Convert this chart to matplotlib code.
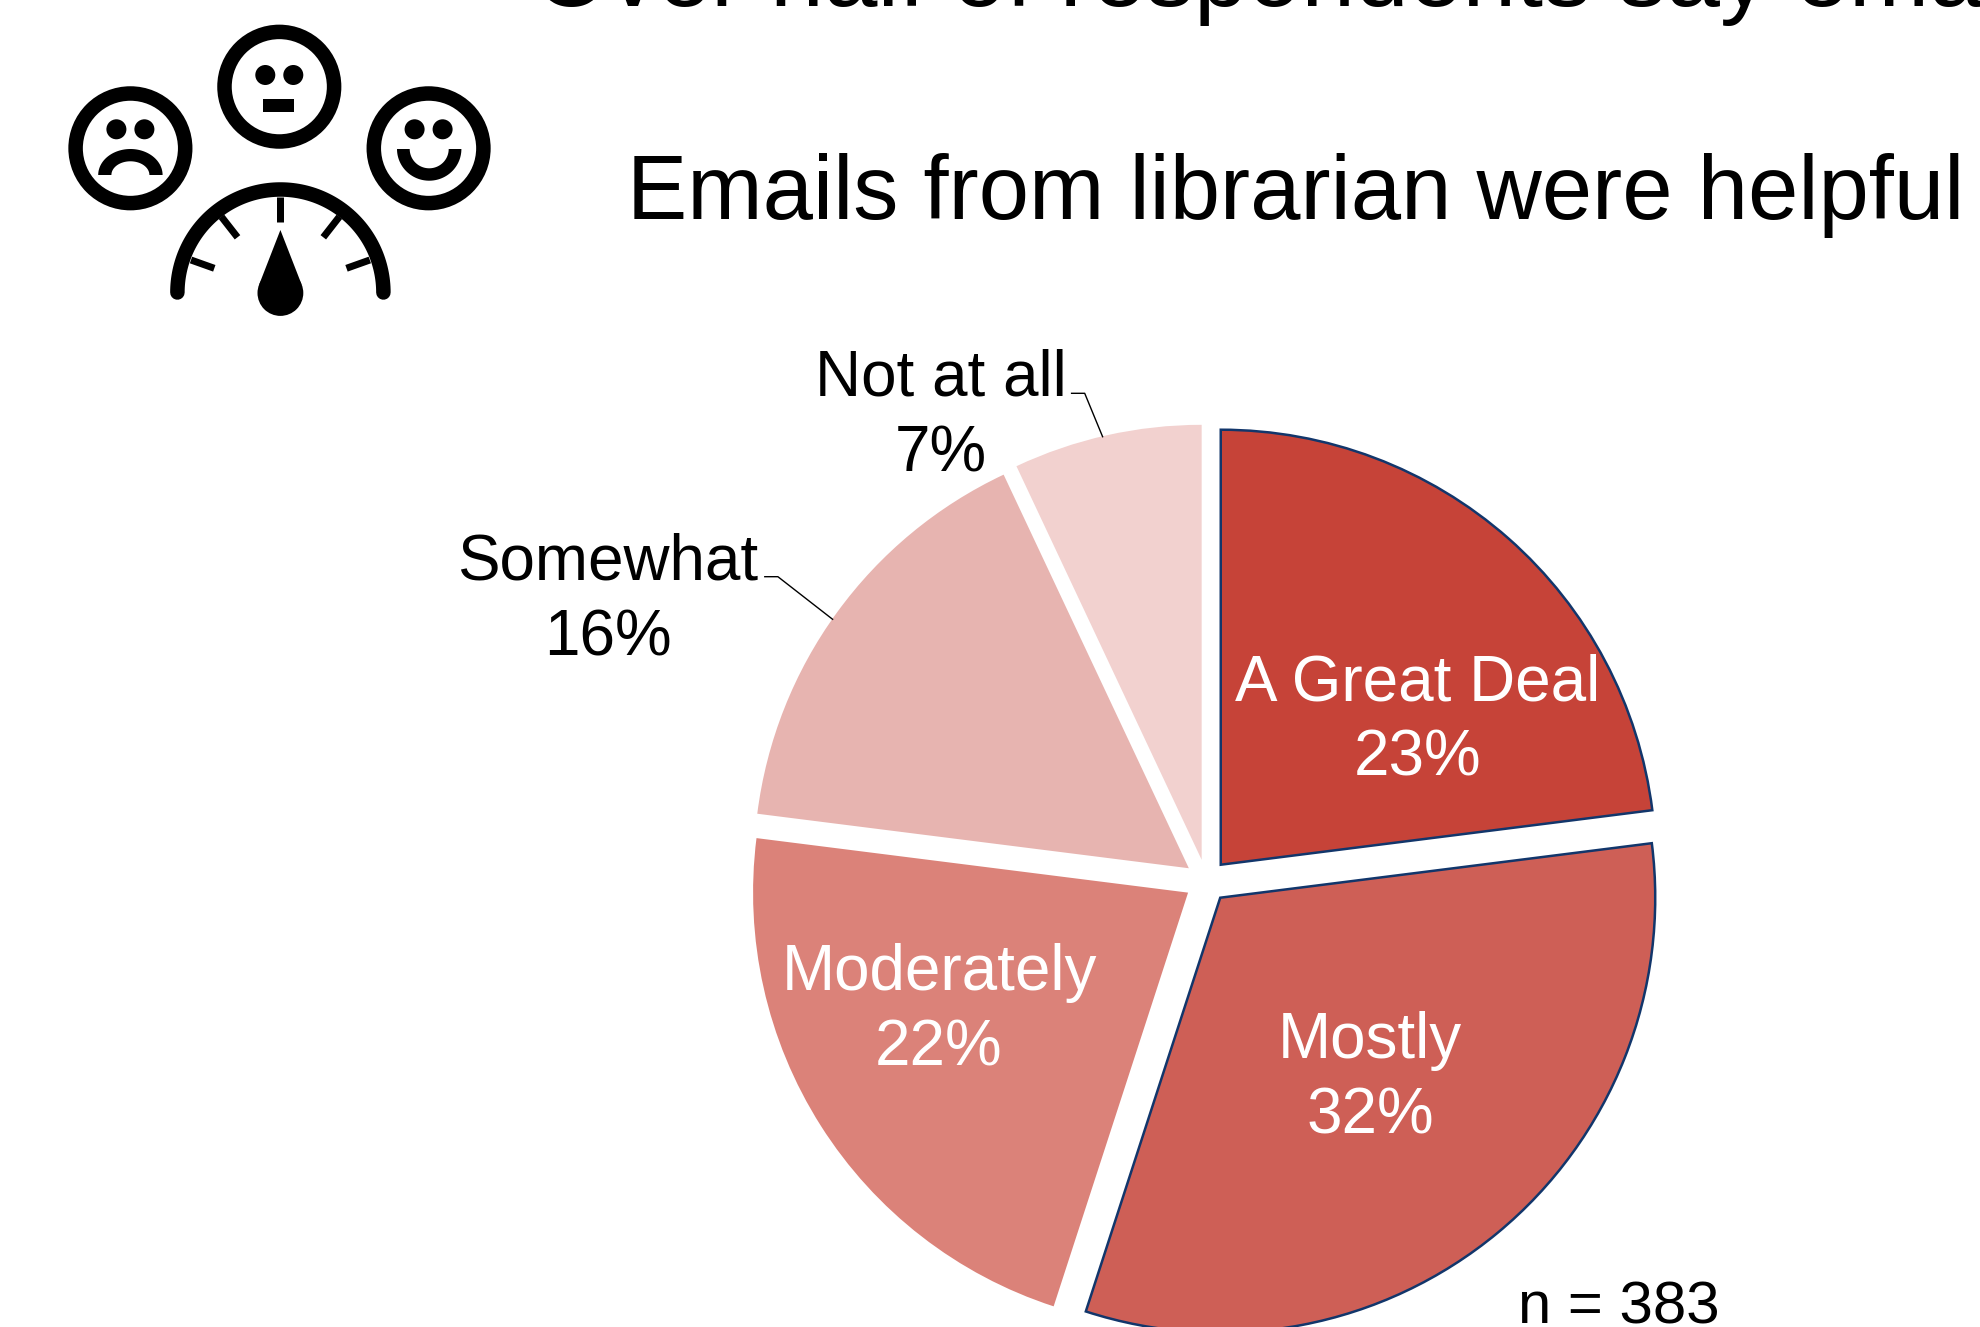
import matplotlib
matplotlib.use("Agg")
import matplotlib.pyplot as plt
import numpy as np
from matplotlib.patches import Circle, Polygon, Rectangle

categories = ["A Great Deal", "Mostly", "Moderately", "Somewhat", "Not at all"]
percents = [23, 32, 22, 16, 7]
colors = ["#C64338", "#CE5F56", "#DB8279", "#E7B4B0", "#F2D1CF"]
text_colors = ["white", "white", "white", "black", "black"]
title_top = "Over half of respondents say emails were helpful"
title_sub = "Emails from librarian were helpful"
sample_note = "n = 383"

W, H = 1980, 1327
PX = 72 / 100  # one pixel in points at dpi 100

plt.rcParams["font.family"] = ["Liberation Sans", "DejaVu Sans"]

fig = plt.figure(figsize=(W / 100, H / 100), dpi=100, facecolor="white")
ax = fig.add_axes([0, 0, 1, 1])

# y axis runs downward, so counterclock here turns clockwise on screen
# pie takes explode in data units, which are pixels here
wedges, _ = ax.pie(percents, colors=colors, explode=[21.7] * 5, radius=435,
                   center=(1206.4, 881), startangle=-90, counterclock=True,
                   wedgeprops={"linewidth": 0}, frame=True)
for w in wedges[:2]:
    w.set_edgecolor("#12366B")
    w.set_linewidth(1.8)

ax.set_xlim(0, W)
ax.set_ylim(H, 0)
ax.axis("off")

# category label centre x and baseline y of the percent line
label_pos = [(1418, 776), (1370, 1134), (939, 1066), (608, 655), (941, 471)]
for name, pct, col, (x, y) in zip(categories, percents, text_colors, label_pos):
    ax.text(x, y, f"{name}\n{pct}%", color=col, fontsize=63.8 * PX, ha="center",
            va="baseline", multialignment="center", linespacing=1.34)

# leader lines
ax.plot([1071.6, 1084.7, 1102.6], [393.3, 393.3, 436.7], color="black", lw=1)
ax.plot([764.8, 777.9, 832.6], [576.7, 576.7, 619.3], color="black", lw=1)

ax.text(534, 6, title_top, fontsize=96.5 * PX, ha="left", va="baseline", color="black")
ax.text(627, 218.5, title_sub, fontsize=90.4 * PX, ha="left", va="baseline", color="black")
ax.text(1619, 1324, sample_note, fontsize=60 * PX, ha="center", va="baseline", color="black")


def half_ring(cx, cy, out_r, in_r, sign):
    t = np.linspace(0, np.pi, 60)
    xs = np.r_[cx + out_r[0] * np.cos(t), cx + in_r[0] * np.cos(t[::-1])]
    ys = np.r_[cy + sign * out_r[1] * np.sin(t), cy + sign * in_r[1] * np.sin(t[::-1])]
    return Polygon(np.c_[xs, ys], closed=True, fc="black", ec="none")


def face(cx, cy, eye_dy):
    ax.add_patch(Circle((cx, cy), 54.8, fc="none", ec="black", lw=14.5 * PX))
    for dx in (-14, 14):
        ax.add_patch(Circle((cx + dx, cy + eye_dy), 10, fc="black", ec="none"))


# sad, neutral and happy faces
face(130.4, 148.3, -19)
ax.add_patch(half_ring(130.4, 175, (32.2, 26), (19, 13.7), -1))
face(279.3, 86.7, -11.7)
ax.add_patch(Rectangle((263.2, 99), 30.4, 13, fc="black", ec="none"))
face(428.6, 148.3, -19)
ax.add_patch(half_ring(429.2, 149, (32.2, 31.7), (19.5, 19.3), 1))

# gauge with ticks and needle
gx, gy, gr = 280.4, 292.5, 103
t = np.linspace(np.pi, 2 * np.pi, 120)
ax.plot(gx + gr * np.cos(t), gy + gr * np.sin(t), color="black", lw=14.5 * PX,
        solid_capstyle="round")
ax.plot([gx, gx], [197.3, 222.3], color="black", lw=7 * PX, solid_capstyle="butt")
for x0, y0, x1, y1 in [(221.4, 216.7, 237.5, 237.3), (191, 260, 214.3, 268.3)]:
    ax.plot([x0, x1], [y0, y1], color="black", lw=7 * PX, solid_capstyle="butt")
    ax.plot([2 * gx - x0, 2 * gx - x1], [y0, y1], color="black", lw=7 * PX,
            solid_capstyle="butt")
ax.add_patch(Circle((gx, 293), 22.9, fc="black", ec="none"))
ax.add_patch(Polygon([(gx, 230), (gx - 21.3, 284.7), (gx + 21.3, 284.7)], closed=True,
                     fc="black", ec="none"))

fig.savefig("out.png", dpi=100, facecolor="white")
